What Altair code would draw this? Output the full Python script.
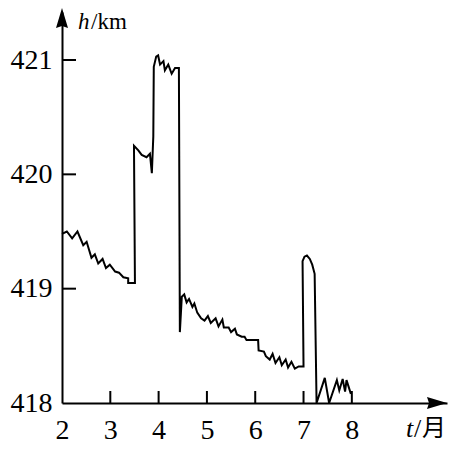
import altair as alt
import pandas as pd

# Orbit height data (t in months, h in km)
t_vals = [2.00, 2.10, 2.21, 2.32, 2.44, 2.51, 2.61, 2.68, 2.75, 2.84, 2.91, 2.99,
          3.10, 3.18, 3.27, 3.37, 3.37, 3.51,
          3.49, 3.58, 3.65, 3.75, 3.82, 3.86, 3.89, 3.90, 3.95, 3.99, 4.03, 4.10,
          4.13, 4.20, 4.27, 4.34, 4.42,
          4.44, 4.48, 4.53, 4.58, 4.63, 4.70, 4.74, 4.80, 4.88, 4.95, 5.02, 5.08,
          5.18, 5.24, 5.32, 5.35, 5.45, 5.50, 5.58, 5.62, 5.72, 5.78, 5.82, 6.06,
          6.07, 6.18, 6.22, 6.30, 6.36, 6.42, 6.50, 6.55, 6.63, 6.68, 6.75, 6.82,
          6.90, 7.00,
          6.98, 7.02, 7.07, 7.13, 7.18, 7.23, 7.27,
          7.44, 7.53, 7.69, 7.74, 7.81, 7.86, 7.89, 7.98]
h_vals = [419.48, 419.50, 419.44, 419.50, 419.38, 419.41, 419.27, 419.30, 419.22, 419.26, 419.18, 419.21,
          419.15, 419.14, 419.10, 419.09, 419.05, 419.05,
          420.25, 420.21, 420.17, 420.15, 420.18, 420.01, 420.33, 420.94, 421.03, 421.04, 420.96, 420.99,
          420.91, 420.96, 420.88, 420.93, 420.93,
          418.62, 418.93, 418.95, 418.88, 418.91, 418.84, 418.87, 418.79, 418.74, 418.72, 418.76, 418.70,
          418.74, 418.67, 418.73, 418.66, 418.66, 418.62, 418.65, 418.60, 418.58, 418.58, 418.55, 418.55,
          418.46, 418.45, 418.41, 418.38, 418.43, 418.35, 418.40, 418.33, 418.38, 418.31, 418.36, 418.30,
          418.32, 418.32,
          419.24, 419.28, 419.29, 419.26, 419.21, 419.13, 418.00,
          418.22, 418.00, 418.20, 418.11, 418.21, 418.10, 418.20, 418.08]

x_labels = [2, 3, 4, 5, 6, 7, 8]
x_ticks = [3, 4, 5, 6, 7, 8]
y_labels = [418, 419, 420, 421]
y_ticks = [419, 420, 421]

W, H = 385, 391
x_dom = [2, 9.97]
y_dom = [418, 421.42]

df = pd.DataFrame({"i": range(len(t_vals)), "t": t_vals, "h": h_vals})
xs = alt.Scale(domain=x_dom, nice=False, zero=False)
ys = alt.Scale(domain=y_dom, nice=False, zero=False)
x_axis = alt.Axis(values=x_labels, title=None, labelPadding=13, labelFlush=False)
y_axis = alt.Axis(values=y_labels, title=None, labelPadding=10, labelFlush=False)

line = alt.Chart(df).mark_line(color="black", strokeWidth=2).encode(
    x=alt.X("t:Q", scale=xs, axis=x_axis),
    y=alt.Y("h:Q", scale=ys, axis=y_axis),
    order="i:O",
)

xt = alt.Chart(pd.DataFrame({"t": x_ticks})).mark_rule(color="black", strokeWidth=2).encode(
    x=alt.X("t:Q", scale=xs, axis=x_axis), y=alt.value(H), y2=alt.value(H - 12)
)
yt = alt.Chart(pd.DataFrame({"h": y_ticks})).mark_rule(color="black", strokeWidth=2).encode(
    y=alt.Y("h:Q", scale=ys, axis=y_axis), x=alt.value(0), x2=alt.value(14)
)

one = pd.DataFrame({"a": [0]})
arrow_r = alt.Chart(one).mark_point(
    shape="M1,0L-1,-0.6L-0.8,0L-1,0.6Z", filled=True, color="black", opacity=1, size=400, strokeWidth=0
).encode(x=alt.value(W - 10), y=alt.value(H))
arrow_u = alt.Chart(one).mark_point(
    shape="M0,-1L-0.6,1L0,0.8L0.6,1Z", filled=True, color="black", opacity=1, size=400, strokeWidth=0
).encode(x=alt.value(0), y=alt.value(6))

serif = "Liberation Serif"
t_h = alt.Chart(one).mark_text(text="h", font=serif, fontSize=23, fontStyle="italic",
                               align="left", baseline="alphabetic", color="black").encode(
    x=alt.value(16), y=alt.value(17))
t_km = alt.Chart(one).mark_text(text="/km", font=serif, fontSize=23,
                                align="left", baseline="alphabetic", color="black").encode(
    x=alt.value(29), y=alt.value(17))
t_t = alt.Chart(one).mark_text(text="t", font=serif, fontSize=26, fontStyle="italic",
                               align="left", baseline="alphabetic", color="black").encode(
    x=alt.value(344), y=alt.value(425))
t_sl = alt.Chart(one).mark_text(text="/", font=serif, fontSize=26,
                                align="left", baseline="alphabetic", color="black").encode(
    x=alt.value(352), y=alt.value(425))
t_m = alt.Chart(one).mark_text(text="月", font="Noto Sans CJK SC", fontSize=24,
                               align="left", baseline="alphabetic", color="black").encode(
    x=alt.value(360), y=alt.value(424))

chart = alt.layer(line, xt, yt, arrow_r, arrow_u, t_h, t_km, t_t, t_sl, t_m).properties(
    width=W, height=H,
    autosize=alt.AutoSizeParams(type="none"),
    padding={"left": 54, "top": 4, "right": 2, "bottom": 41},
    background="white",
).configure_view(stroke=None).configure_axis(
    domainColor="black", domainWidth=2, ticks=False, tickSize=0, grid=False,
    labelFont=serif, labelFontSize=28, labelColor="black",
)

chart.save("out.html", embed_options={"renderer": "svg", "actions": False})
